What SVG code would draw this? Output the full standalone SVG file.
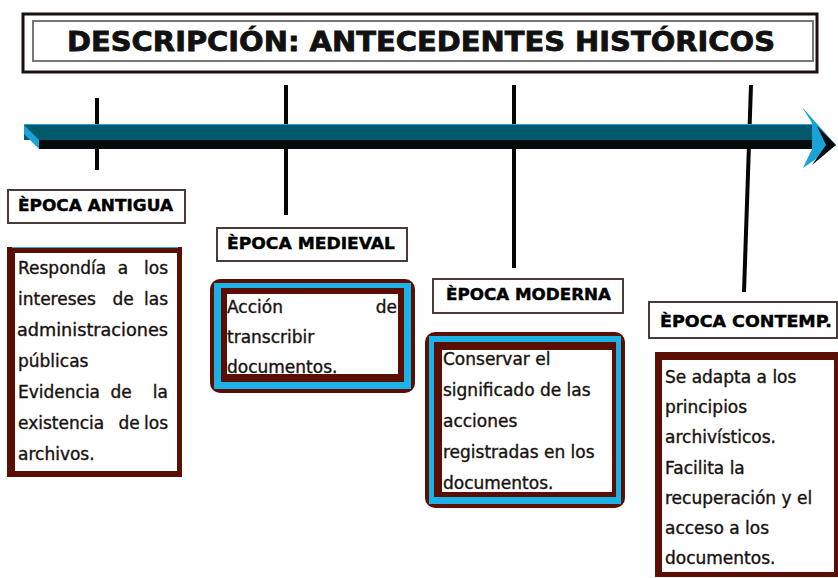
<svg xmlns="http://www.w3.org/2000/svg" width="838" height="578" viewBox="0 0 838 578">
<style>
.body{font-family:"DejaVu Sans","Liberation Sans",sans-serif;font-size:17px;fill:#111;stroke:#2a1a14;stroke-width:0.4;}
.lbl{font-family:"DejaVu Sans","Liberation Sans",sans-serif;font-size:15px;font-weight:bold;fill:#000;stroke:#000;stroke-width:0.4;}
.lblbox{fill:#fff;stroke:#4a3a38;stroke-width:2;}
.tick{stroke:#050505;stroke-width:4;stroke-linecap:butt;}
.brown{fill:#5b0e04;}
.blue{fill:#1bb2e6;}
.white{fill:#fff;}
</style>
<rect width="838" height="578" fill="#fff"/>

<g id="title">
  <rect x="23" y="14" width="794" height="58" fill="#fff" stroke="#1a1010" stroke-width="3"/>
  <rect x="33" y="21" width="780" height="40" fill="none" stroke="#777" stroke-width="2"/>
  <text x="67" y="51" font-family="DejaVu Sans, Liberation Sans, sans-serif" font-size="27" font-weight="bold" fill="#111" stroke="#111" stroke-width="0.8" textLength="708" lengthAdjust="spacingAndGlyphs">DESCRIPCIÓN: ANTECEDENTES HISTÓRICOS</text>
</g>

<g id="connectors">
  <line class="tick" x1="97" y1="98" x2="97" y2="170"/>
  <line class="tick" x1="286" y1="85" x2="286" y2="215"/>
  <line class="tick" x1="514" y1="85" x2="514" y2="268"/>
  <line class="tick" x1="751" y1="85" x2="744" y2="292"/>
</g>

<g id="timeline">
  <rect x="24" y="124" width="792" height="16" fill="#005a6c"/>
  <line x1="24" y1="124.5" x2="814" y2="124.5" stroke="#1aa3d6" stroke-width="1"/>
  <rect x="39" y="140" width="784" height="9" fill="#020c0c"/>
  <polygon points="24,125 24,134 39,149 39,140" fill="#1aa3d6"/>
  <polygon points="802,107 836,145 803,168 812,149 812,123" fill="#1aa3d6"/>
  <polygon points="817,126 836,145 812,165 826,145" fill="#020c0c"/>
</g>

<g id="antigua">
  <rect class="lblbox" x="8" y="190" width="177" height="33"/>
  <text class="lbl" x="18" y="211" textLength="155" lengthAdjust="spacingAndGlyphs">ÈPOCA ANTIGUA</text>
  <rect class="brown" x="7" y="247" width="175" height="230"/>
  <line x1="12" y1="247.5" x2="178" y2="247.5" stroke="#1bb2e6" stroke-width="1"/>
  <rect class="white" x="15" y="253" width="162" height="218"/>
  <text class="body" x="18" y="274">Respondía</text>
  <text class="body" x="123" y="274" text-anchor="middle">a</text>
  <text class="body" x="168" y="274" text-anchor="end">los</text>
  <text class="body" x="18" y="305">intereses</text>
  <text class="body" x="123" y="305" text-anchor="middle">de</text>
  <text class="body" x="168" y="305" text-anchor="end">las</text>
  <text class="body" x="17" y="336" textLength="151" lengthAdjust="spacingAndGlyphs">administraciones</text>
  <text class="body" x="18" y="367">públicas</text>
  <text class="body" x="18" y="398">Evidencia</text>
  <text class="body" x="121" y="398" text-anchor="middle">de</text>
  <text class="body" x="168" y="398" text-anchor="end">la</text>
  <text class="body" x="18" y="429">existencia</text>
  <text class="body" x="129" y="429" text-anchor="middle">de</text>
  <text class="body" x="168" y="429" text-anchor="end">los</text>
  <text class="body" x="18" y="460">archivos.</text>
</g>

<g id="medieval">
  <rect class="lblbox" x="217" y="228" width="190" height="33"/>
  <text class="lbl" x="227" y="249" textLength="168" lengthAdjust="spacingAndGlyphs">ÈPOCA MEDIEVAL</text>
  <rect class="brown" x="210" y="279" width="205" height="114" rx="10"/>
  <rect class="blue" x="214" y="283" width="197" height="106"/>
  <rect class="brown" x="221" y="288" width="183" height="94"/>
  <rect class="white" x="227" y="294" width="171" height="80"/>
  <text class="body" x="227" y="313">Acción</text>
  <text class="body" x="397" y="313" text-anchor="end">de</text>
  <text class="body" x="227" y="343">transcribir</text>
  <text class="body" x="227" y="373">documentos.</text>
</g>

<g id="moderna">
  <rect class="lblbox" x="433" y="279" width="190" height="34"/>
  <text class="lbl" x="446" y="300" textLength="165" lengthAdjust="spacingAndGlyphs">ÈPOCA MODERNA</text>
  <rect class="brown" x="425" y="332" width="200" height="176" rx="10"/>
  <rect class="blue" x="429" y="336" width="192" height="168"/>
  <rect class="brown" x="434" y="342" width="182" height="155"/>
  <rect class="white" x="442" y="350" width="170" height="142"/>
  <text class="body" x="443" y="365">Conservar el</text>
  <text class="body" x="443" y="396">significado de las</text>
  <text class="body" x="443" y="427">acciones</text>
  <text class="body" x="443" y="458">registradas en los</text>
  <text class="body" x="443" y="489">documentos.</text>
</g>

<g id="contemporanea">
  <rect class="lblbox" x="649" y="302" width="188" height="36"/>
  <text class="lbl" x="660" y="327" textLength="172" lengthAdjust="spacingAndGlyphs">ÈPOCA CONTEMP.</text>
  <rect class="brown" x="655" y="352" width="183" height="225"/>
  <rect class="white" x="662" y="360" width="172" height="212"/>
  <text class="body" x="665" y="383">Se adapta a los</text>
  <text class="body" x="665" y="413">principios</text>
  <text class="body" x="665" y="443">archivísticos.</text>
  <text class="body" x="665" y="474">Facilita la</text>
  <text class="body" x="665" y="504">recuperación y el</text>
  <text class="body" x="665" y="534">acceso a los</text>
  <text class="body" x="665" y="564">documentos.</text>
</g>
</svg>
